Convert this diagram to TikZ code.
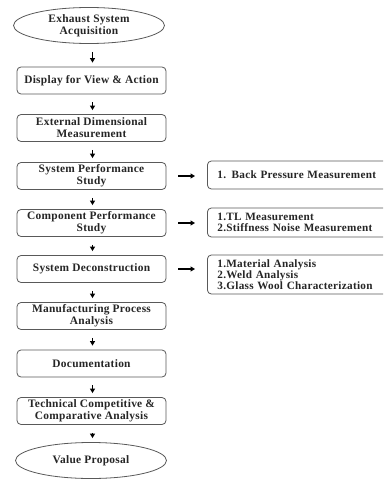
\documentclass[tikz,border=0pt]{standalone}
\usepackage{fontspec}
\setmainfont{Liberation Serif}[LetterSpace=2.5]
\usetikzlibrary{arrows.meta,shapes.geometric}
\begin{document}
\begin{tikzpicture}[x=1pt,y=-1pt,
  txt/.style={font=\bfseries\fontsize{11.4}{12}\selectfont, text=black!85},
  stepbox/.style={txt, draw=black!65, line width=0.8pt, rounded corners=4pt,
    minimum width=149pt, minimum height=27pt, align=center, inner sep=2pt},
  endoval/.style={txt, draw=black!65, line width=0.8pt, ellipse,
    minimum width=151pt, minimum height=36pt, align=center, inner sep=0pt},
  sidebox/.style={txt, font=\bfseries\fontsize{11.2}{10.8}\selectfont,
    draw=black!65, line width=0.8pt, rounded corners=4pt,
    anchor=west, text width=180pt, inner xsep=10pt, inner ysep=2pt, align=left},
  flow/.style={line width=1.2pt, -{Triangle[length=4.5pt,width=5pt]}}]
\useasboundingbox (0,0) rectangle (383,481);
\clip (0,0) rectangle (383,481);
\fill[white] (0,0) rectangle (383,481);

\node[endoval] (e1) at (89,25.5) {Exhaust System\\Acquisition};
\node[stepbox] (b2) at (91.5,80.5) {Display for View \& Action};
\node[stepbox] (b3) at (91.5,128) {External Dimensional\\Measurement};
\node[stepbox] (b4) at (91.5,176) {System Performance\\Study};
\node[stepbox] (b5) at (91.5,223) {Component Performance\\Study};
\node[stepbox] (b6) at (91.5,269) {System Deconstruction};
\node[stepbox] (b7) at (91.5,316) {Manufacturing Process\\Analysis};
\node[stepbox] (b8) at (91.5,363.5) {Documentation};
\node[stepbox] (b9) at (91.5,411) {Technical Competitive \&\\Comparative Analysis};
\node[endoval] (e2) at (91,460.5) {Value Proposal};

\node[sidebox, minimum height=28pt] (r1) at (207,175) {1. Back Pressure Measurement};
\node[sidebox, minimum height=29pt] (r2) at (207,222.5) {1.TL Measurement\\2.Stiffness Noise Measurement};
\node[sidebox, minimum height=39pt] (r3) at (207,274.5) {1.Material Analysis\\2.Weld Analysis\\3.Glass Wool Characterization};

\foreach \a/\b in {e1/b2,b2/b3,b3/b4,b4/b5,b5/b6,b6/b7,b7/b8,b8/b9,b9/e2}{
  \path (\a.south -| b2.center) coordinate (p1) (\b.north -| b2.center) coordinate (p2);
  \draw[flow] ([xshift=1pt,yshift=-8pt]p1) -- ([xshift=1pt,yshift=4pt]p2);
}
\foreach \a/\b in {b4/r1,b5/r2,b6/r3}{
  \path ([xshift=12pt]\a.east) coordinate (s);
  \path (s -| \b.west) coordinate (t);
  \draw[flow] (s) -- ([xshift=-12pt]t);
}
\end{tikzpicture}
\end{document}
